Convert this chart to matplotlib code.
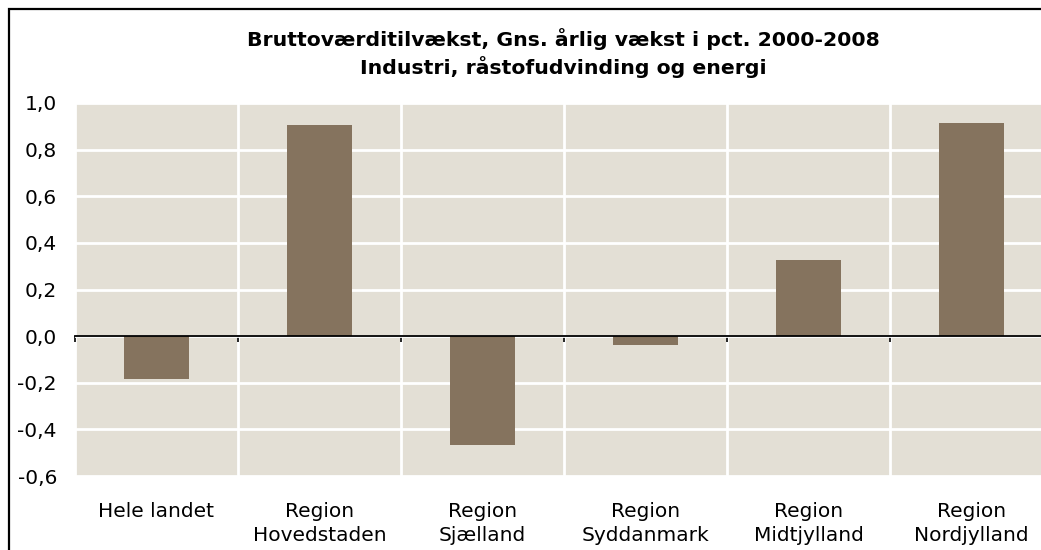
import matplotlib
matplotlib.use("Agg")
import matplotlib.pyplot as plt
from matplotlib.ticker import FuncFormatter, FixedLocator
from matplotlib.patches import Rectangle
import numpy as np

# data
categories = ["Hele landet", "Region\nHovedstaden", "Region\nSjælland",
              "Region\nSyddanmark", "Region\nMidtjylland", "Region\nNordjylland"]
values = [-0.185, 0.905, -0.465, -0.04, 0.325, 0.915]
yticks = [-0.6, -0.4, -0.2, 0.0, 0.2, 0.4, 0.6, 0.8, 1.0]
title = "Bruttoværditilvækst, Gns. årlig vækst i pct. 2000-2008\nIndustri, råstofudvinding og energi"

bg = "#e3dfd5"
bar_col = "#85735e"

plt.rcParams["font.family"] = ["DejaVu Sans"]

fig = plt.figure(figsize=(10.41, 5.5), dpi=100)
ax = fig.add_axes([75 / 1041, 74 / 550, 978 / 1041, 373 / 550])
ax.set_facecolor(bg)

x = np.arange(len(categories))
ax.bar(x, values, width=0.4, color=bar_col, zorder=2)

ax.set_xlim(-0.5, len(categories) - 0.5)
ax.set_ylim(yticks[0], yticks[-1])
ax.set_yticks(yticks)
ax.yaxis.set_major_formatter(FuncFormatter(lambda v, _: f"{v:.1f}".replace(".", ",")))
ax.tick_params(axis="y", length=0, pad=13, labelsize=14.5)

# category boundaries carry the white gridlines and the small ticks on the zero line
bounds = np.arange(len(categories) + 1) - 0.5
ax.xaxis.set_major_locator(FixedLocator(bounds))
ax.set_xticklabels([])
ax.tick_params(axis="x", length=4, width=1.2, direction="out", color="black")
ax.grid(True, color="white", linewidth=2.0, zorder=1)
ax.set_axisbelow(True)

for s in ["top", "left", "right"]:
    ax.spines[s].set_visible(False)
ax.spines["bottom"].set_position(("data", 0))
ax.spines["bottom"].set_linewidth(1.3)
ax.spines["bottom"].set_zorder(3)

for i, lab in enumerate(categories):
    ax.annotate(lab, xy=(x[i], 0), xycoords=("data", "axes fraction"),
                xytext=(0, -19), textcoords="offset points",
                ha="center", va="top", fontsize=14.5, linespacing=1.3)

fig.text(563 / 1041, 1 - 53 / 550, title, ha="center", va="center",
         fontsize=14.7, fontweight="bold", linespacing=1.3)

fig.patches.append(Rectangle((9 / 1041, -0.1), 1.2, 1.1 - 9 / 550, transform=fig.transFigure,
                             fill=False, edgecolor="black", linewidth=1.6))

fig.savefig("out.png", dpi=100)
